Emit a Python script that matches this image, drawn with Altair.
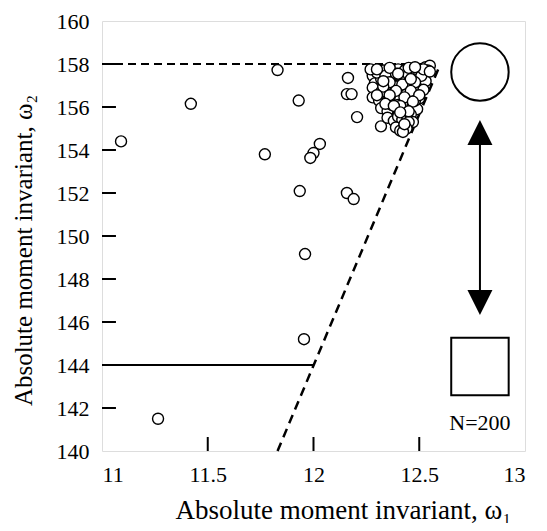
import altair as alt
import pandas as pd

# ---- data ----
# outlying points
out_x = [11.09, 11.42, 11.83, 11.93, 11.77, 12.03, 12.00, 11.985, 11.935, 11.96, 11.955, 11.265,
         12.163, 12.158, 12.18, 12.206, 12.319, 12.158, 12.19]
out_y = [154.4, 156.15, 157.72, 156.3, 153.8, 154.28, 153.86, 153.63, 152.09, 149.16, 145.2, 141.5,
         157.35, 156.6, 156.6, 155.53, 155.1, 152.0, 151.72]

# dense cluster near the upper right corner
cl_x = [12.28, 12.31, 12.33, 12.37, 12.40, 12.43, 12.46, 12.49, 12.53, 12.55,
        12.29, 12.32, 12.35, 12.38, 12.41, 12.44, 12.47, 12.50, 12.52, 12.54, 12.34, 12.40,
        12.28, 12.32, 12.36, 12.39, 12.42, 12.45, 12.48, 12.51, 12.53, 12.37, 12.44,
        12.28, 12.31, 12.35, 12.38, 12.41, 12.43, 12.46, 12.49, 12.50, 12.52, 12.40,
        12.32, 12.35, 12.37, 12.40, 12.42, 12.45, 12.47, 12.49, 12.48,
        12.35, 12.38, 12.40, 12.42, 12.44, 12.46, 12.47,
        12.39, 12.41, 12.43, 12.45, 12.44, 12.423,
        12.30, 12.34, 12.39, 12.45, 12.51, 12.36, 12.42, 12.48, 12.33, 12.39, 12.46,
        12.30, 12.36, 12.43, 12.50, 12.34, 12.41, 12.47, 12.38, 12.45, 12.41, 12.43,
        12.27, 12.30, 12.45, 12.52, 12.36, 12.48, 12.55, 12.33, 12.40, 12.46]
cl_y = [157.45, 157.52, 157.70, 157.62, 157.75, 157.68, 157.72, 157.60, 157.85, 157.92,
        157.10, 157.30, 157.25, 157.40, 157.20, 157.35, 157.45, 157.30, 157.55, 157.70, 157.05, 157.00,
        156.90, 156.70, 156.85, 156.95, 156.80, 157.00, 156.90, 157.10, 157.20, 156.60, 156.60,
        156.45, 156.30, 156.30, 156.50, 156.35, 156.20, 156.50, 156.70, 156.40, 156.80, 156.10,
        155.95, 155.80, 156.10, 155.90, 155.70, 156.00, 156.10, 155.90, 156.30,
        155.50, 155.35, 155.55, 155.40, 155.60, 155.65, 155.30,
        155.05, 154.90, 155.15, 155.30, 155.00, 154.84,
        157.60, 157.45, 157.55, 157.50, 157.45, 157.15, 157.05, 157.15, 156.95, 156.75, 156.75,
        156.55, 156.55, 156.45, 156.55, 156.15, 156.05, 156.25, 156.05, 155.80, 155.75, 155.20,
        157.75, 157.75, 157.82, 157.75, 157.82, 157.85, 157.65, 157.20, 157.55, 157.30]

pts = pd.DataFrame({"w1": out_x + cl_x, "w2": out_y + cl_y})

# reference lines
dash_top = pd.DataFrame({"w1": [11.0, 12.56], "w2": [158.0, 158.0]})
solid_144 = pd.DataFrame({"w1": [11.0, 12.0], "w2": [144.0, 144.0]})
diag = pd.DataFrame({"w1": [11.83, 12.60], "w2": [140.0, 158.0]})

# inward tick marks
ytick_vals = [142, 144, 146, 148, 150, 152, 154, 156, 158]
xtick_vals = [11.5, 12.0, 12.5]
ytk = pd.DataFrame({"w2": ytick_vals, "a": [11.0] * 9, "b": [11.066] * 9})
xtk = pd.DataFrame({"w1": xtick_vals, "a": [140.0] * 3, "b": [140.65] * 3})

# shape key on the right
key_x = 12.787
circle_key = pd.DataFrame({"w1": [key_x], "w2": [157.63]})
square_key = pd.DataFrame({"w1": [key_x], "w2": [143.93]})
arrow_shaft = pd.DataFrame({"w1": [key_x], "a": [154.8], "b": [146.9]})
arrow_up = pd.DataFrame({"w1": [key_x], "w2": [154.81]})
arrow_dn = pd.DataFrame({"w1": [key_x], "w2": [146.91]})
n_label = pd.DataFrame({"w1": [key_x], "w2": [141.3], "t": ["N=200"]})

FONT = "Liberation Serif"

xsc = alt.Scale(domain=[11, 13], nice=False, zero=False)
ysc = alt.Scale(domain=[140, 160], nice=False, zero=False)

xax = alt.Axis(values=[11, 11.5, 12, 12.5, 13], format="~g", ticks=False, domain=False, grid=False,
               labelFont=FONT, labelFontSize=22, labelColor="black", labelPadding=13,
               title="Absolute moment invariant, ω₁", titleFont=FONT, titleFontSize=27,
               titleFontWeight="normal", titleColor="black", titleX=241, titleY=59,
               titleBaseline="middle")
yax = alt.Axis(values=list(range(140, 161, 2)), ticks=False, domain=False, grid=False,
               labelFont=FONT, labelFontSize=22, labelColor="black", labelPadding=13,
               title="Absolute moment invariant, ω₂", titleFont=FONT, titleFontSize=25,
               titleFontWeight="normal", titleColor="black", titleX=-79, titleY=229,
               titleBaseline="middle")

X = alt.X("w1:Q", scale=xsc, axis=xax)
Y = alt.Y("w2:Q", scale=ysc, axis=yax)

l_top = alt.Chart(dash_top).mark_line(color="black", strokeWidth=2, strokeDash=[8, 5]).encode(X, Y)
l_144 = alt.Chart(solid_144).mark_line(color="black", strokeWidth=2).encode(X, Y)
l_diag = alt.Chart(diag).mark_line(color="black", strokeWidth=2.5, strokeDash=[9, 6]).encode(X, Y)

t_y = alt.Chart(ytk).mark_rule(color="black", strokeWidth=2).encode(
    x=alt.X("a:Q", scale=xsc, axis=xax), x2="b:Q", y=alt.Y("w2:Q", scale=ysc, axis=yax))
t_x = alt.Chart(xtk).mark_rule(color="black", strokeWidth=2).encode(
    x=alt.X("w1:Q", scale=xsc, axis=xax), y=alt.Y("a:Q", scale=ysc, axis=yax), y2="b:Q")

scatter = alt.Chart(pts).mark_point(shape="circle", size=121, filled=True, fill="white",
                                    stroke="black", strokeWidth=1.4, opacity=1).encode(X, Y)

k_circ = alt.Chart(circle_key).mark_point(shape="circle", size=3300, filled=False, color="black",
                                          strokeWidth=2, opacity=1).encode(X, Y)
k_sq = alt.Chart(square_key).mark_point(shape="square", size=3300, filled=False, color="black",
                                        strokeWidth=2, opacity=1).encode(X, Y)
k_shaft = alt.Chart(arrow_shaft).mark_rule(color="black", strokeWidth=2).encode(
    x=alt.X("w1:Q", scale=xsc, axis=xax), y=alt.Y("a:Q", scale=ysc, axis=yax), y2="b:Q")
k_up = alt.Chart(arrow_up).mark_point(shape="M0,-1L1,1L-1,1Z", size=625, filled=True,
                                      color="black", opacity=1).encode(X, Y)
k_dn = alt.Chart(arrow_dn).mark_point(shape="M0,1L1,-1L-1,-1Z", size=625, filled=True,
                                      color="black", opacity=1).encode(X, Y)
k_txt = alt.Chart(n_label).mark_text(font=FONT, fontSize=22, color="black", align="center",
                                     baseline="middle").encode(X, Y, text="t:N")

chart = alt.layer(l_144, l_diag, l_top, t_y, t_x, scatter,
                  k_circ, k_sq, k_shaft, k_up, k_dn, k_txt).properties(
    width=423, height=430,
    autosize=alt.AutoSizeParams(type="none"),
    padding={"left": 94, "top": 13, "right": 14, "bottom": 72},
).configure_view(stroke="black", strokeWidth=2).configure(background="white")

chart.save("out.html", embed_options={"renderer": "svg", "actions": False})
